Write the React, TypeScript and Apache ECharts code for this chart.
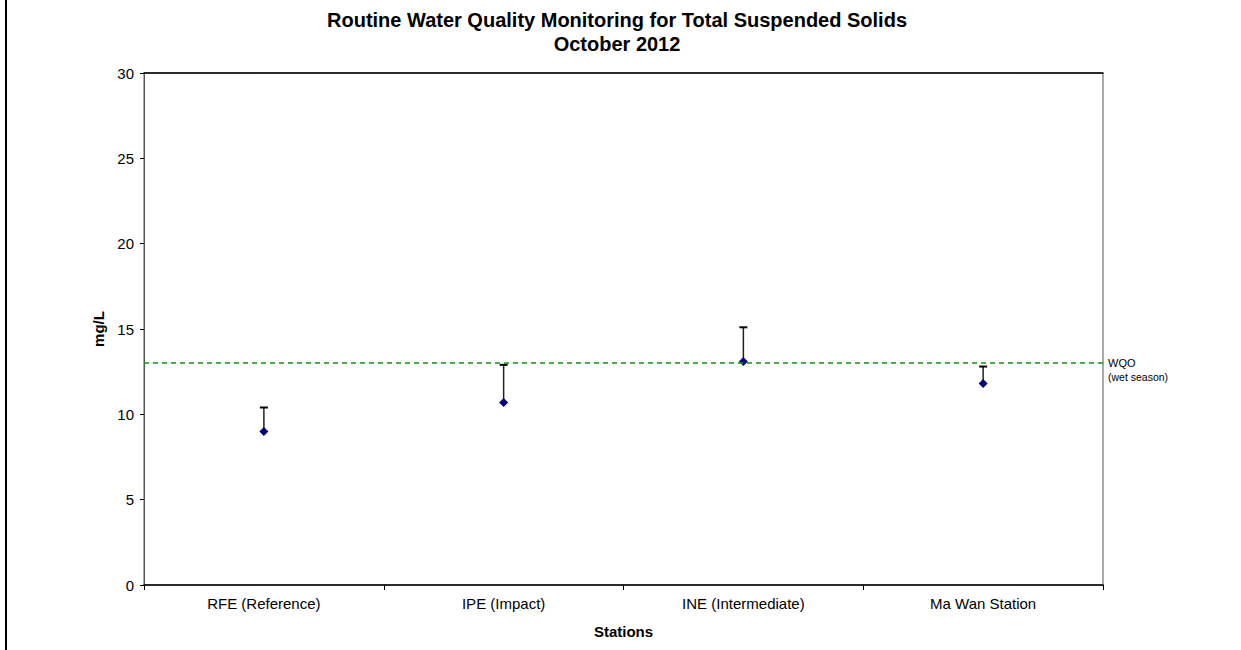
import React, { useEffect, useRef } from "react";
import * as echarts from "echarts";

const stations = ["RFE (Reference)", "IPE (Impact)", "INE (Intermediate)", "Ma Wan Station"];
const meanValues = [9.0, 10.7, 13.1, 11.8];
const upperValues = [10.4, 12.9, 15.1, 12.8];
const wqoValue = 13;
const yTicks = { min: 0, max: 30, interval: 5 };
const titleLines = ["Routine Water Quality Monitoring for Total Suspended Solids", "October 2012"];

const FONT = "'Liberation Sans', Arial, sans-serif";

export default function App() {
  const ref = useRef<HTMLDivElement>(null);
  useEffect(() => {
    if (!ref.current) return;
    const chart = echarts.init(ref.current, null, { renderer: "svg" });
    const option: any = {
      animation: false,
      backgroundColor: "#fff",
      textStyle: { fontFamily: FONT },
      title: {
        text: titleLines.join("\n"),
        left: 612,
        textAlign: "center",
        top: 3,
        textStyle: { fontFamily: FONT, fontSize: 20, fontWeight: "bold", color: "#000", lineHeight: 24 },
      },
      graphic: [
        { type: "rect", left: 5, top: 0, shape: { width: 2, height: 650 }, style: { fill: "#000" } },
      ],
      grid: { left: 144, right: 138, top: 73, bottom: 65, show: true, borderColor: "#555", borderWidth: 1 },
      xAxis: [
        {
          type: "category",
          data: stations,
          position: "bottom",
          name: "Stations",
          nameLocation: "middle",
          nameGap: 39,
          nameTextStyle: { fontFamily: FONT, fontSize: 15, fontWeight: "bold", color: "#000" },
          axisLine: { lineStyle: { color: "#000", width: 1.5 } },
          axisTick: { show: true, length: 5, lineStyle: { color: "#000" } },
          axisLabel: { fontFamily: FONT, fontSize: 15, color: "#000", margin: 11 },
          splitLine: { show: false },
        },
        {
          type: "category",
          data: stations,
          position: "top",
          axisLine: { lineStyle: { color: "#000", width: 1.5 } },
          axisTick: { show: false },
          axisLabel: { show: false },
          splitLine: { show: false },
        },
      ],
      yAxis: {
        type: "value",
        min: yTicks.min,
        max: yTicks.max,
        interval: yTicks.interval,
        name: "mg/L",
        nameLocation: "middle",
        nameGap: 36,
        nameTextStyle: { fontFamily: FONT, fontSize: 15, fontWeight: "bold", color: "#000" },
        axisLine: { show: true, lineStyle: { color: "#555", width: 1 } },
        axisTick: { show: true, length: 4, lineStyle: { color: "#000" } },
        axisLabel: { fontFamily: FONT, fontSize: 15, color: "#000", margin: 10 },
        splitLine: { show: false },
      },
      series: [
        {
          type: "custom",
          name: "range",
          silent: true,
          data: stations.map((_, i) => [i, meanValues[i], upperValues[i]]),
          renderItem: (params: any, api: any) => {
            const x = api.value(0);
            const p1 = api.coord([x, api.value(1)]);
            const p2 = api.coord([x, api.value(2)]);
            return {
              type: "group",
              children: [
                { type: "line", shape: { x1: p1[0], y1: p1[1], x2: p2[0], y2: p2[1] }, style: { stroke: "#222", lineWidth: 1.5 } },
                { type: "line", shape: { x1: p2[0] - 4, y1: p2[1], x2: p2[0] + 4, y2: p2[1] }, style: { stroke: "#000", lineWidth: 2 } },
              ],
            };
          },
          z: 2,
        },
        {
          type: "scatter",
          name: "TSS",
          data: meanValues,
          symbol: "diamond",
          symbolSize: 9,
          itemStyle: { color: "#000080", opacity: 1 },
          z: 3,
          markLine: {
            silent: true,
            symbol: "none",
            lineStyle: { color: "#0a960a", type: [5, 4], width: 1.5 },
            label: {
              show: true,
              position: "end",
              distance: 5,
              formatter: "{a|WQO}\n{b|(wet season)}",
              padding: [13, 0, 0, 0],
              rich: {
                a: { fontFamily: FONT, fontSize: 11, color: "#000", lineHeight: 14 },
                b: { fontFamily: FONT, fontSize: 10.5, color: "#000", lineHeight: 13 },
              },
            },
            data: [{ yAxis: wqoValue }],
          },
        },
      ],
    };
    chart.setOption(option);
    return () => chart.dispose();
  }, []);
  return <div ref={ref} style={{ position: "fixed", left: 0, top: 0, width: 1241, height: 650 }} />;
}
